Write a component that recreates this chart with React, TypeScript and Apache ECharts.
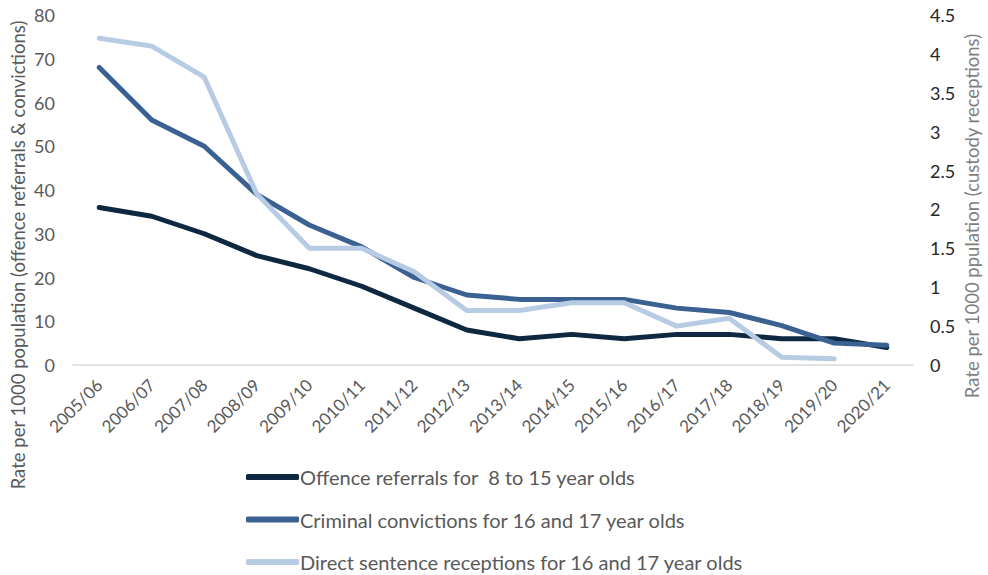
import React, { useEffect, useRef } from "react";
import * as echarts from "echarts";

const categories = [
  "2005/06", "2006/07", "2007/08", "2008/09", "2009/10", "2010/11", "2011/12", "2012/13",
  "2013/14", "2014/15", "2015/16", "2016/17", "2017/18", "2018/19", "2019/20", "2020/21",
];
const offenceReferrals = [36, 34, 30, 25, 22, 18, 13, 8, 6, 7, 6, 7, 7, 6, 6, 4];
const criminalConvictions = [68, 56, 50, 39, 32, 27, 20, 16, 15, 15, 15, 13, 12, 9, 5, 4.5];
const directSentenceReceptions = [4.2, 4.1, 3.7, 2.2, 1.5, 1.5, 1.2, 0.7, 0.7, 0.8, 0.8, 0.5, 0.6, 0.1, 0.08, null];

const seriesNames = [
  "Offence referrals for  8 to 15 year olds",
  "Criminal convictions for 16 and 17 year olds",
  "Direct sentence receptions for 16 and 17 year olds",
];
const colors = ["#0E2841", "#3A6191", "#B7CCE4"];
const FONT = "Lato, 'Liberation Sans', sans-serif";

export default function App() {
  const ref = useRef<HTMLDivElement>(null);
  useEffect(() => {
    document.body.style.margin = "0";
    if (!ref.current) return;
    const chart = echarts.init(ref.current, undefined, { renderer: "svg" });
    const lineSeries = (name: string, data: (number | null)[], color: string, yAxisIndex: number) => ({
      name,
      type: "line",
      data,
      yAxisIndex,
      symbol: "none",
      connectNulls: false,
      lineStyle: { color, width: 5, cap: "round", join: "round" },
      itemStyle: { color },
    });
    chart.setOption({
      animation: false,
      textStyle: { fontFamily: FONT },
      color: colors,
      grid: { left: 73, right: 75, top: 15, bottom: 210, containLabel: false },
      xAxis: {
        type: "category",
        data: categories,
        boundaryGap: true,
        axisLine: { show: true, lineStyle: { color: "#D9D9D9", width: 1.5 } },
        axisTick: { show: false },
        axisLabel: {
          rotate: 45,
          interval: 0,
          color: "#595959",
          fontSize: 17,
          fontFamily: FONT,
          margin: 17,
        },
        splitLine: { show: false },
      },
      yAxis: [
        {
          type: "value",
          min: 0,
          max: 80,
          interval: 10,
          axisLine: { show: false },
          axisTick: { show: false },
          splitLine: { show: false },
          axisLabel: { color: "#595959", fontSize: 18, fontFamily: FONT, margin: 18 },
        },
        {
          type: "value",
          min: 0,
          max: 4.5,
          interval: 0.5,
          position: "right",
          axisLine: { show: false },
          axisTick: { show: false },
          splitLine: { show: false },
          axisLabel: { color: "#262626", fontSize: 18, fontFamily: FONT, margin: 17 },
        },
      ],
      legend: {
        orient: "vertical",
        left: 241,
        top: 462,
        height: 113,
        itemWidth: 53,
        itemHeight: 6,
        itemGap: 22.5,
        icon: "roundRect",
        textStyle: { color: "#595959", fontSize: 20, fontFamily: FONT, lineHeight: 18, padding: [0, 0, 0, -4] },
        data: seriesNames,
      },
      graphic: [
        {
          type: "text",
          x: 18,
          y: 255,
          rotation: Math.PI / 2,
          style: {
            text: "Rate per 1000 population (offence referrals & convictions)",
            fill: "#595959",
            font: `18.5px ${FONT}`,
            align: "center",
            verticalAlign: "middle",
          },
        },
        {
          type: "text",
          x: 972,
          y: 216,
          rotation: Math.PI / 2,
          style: {
            text: "Rate per 1000 ppulation (custody receptions)",
            fill: "#7F7F7F",
            font: `18.5px ${FONT}`,
            align: "center",
            verticalAlign: "middle",
          },
        },
      ],
      series: [
        lineSeries(seriesNames[0], offenceReferrals, colors[0], 0),
        lineSeries(seriesNames[1], criminalConvictions, colors[1], 0),
        lineSeries(seriesNames[2], directSentenceReceptions, colors[2], 1),
      ],
    });
    return () => chart.dispose();
  }, []);
  return <div ref={ref} style={{ width: 988, height: 575 }} />;
}
